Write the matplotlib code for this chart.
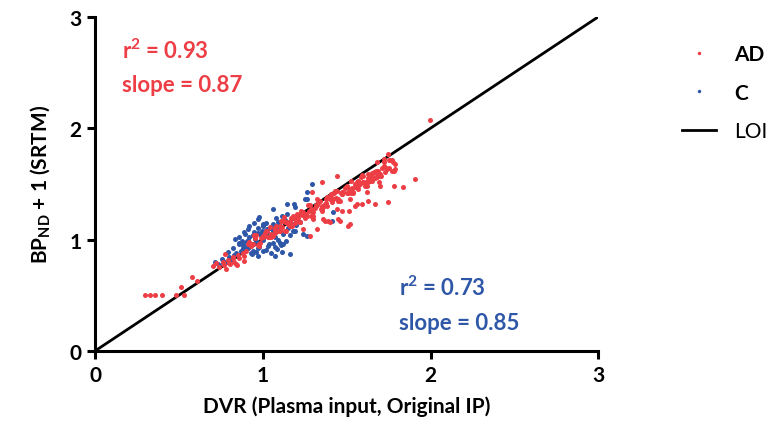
import matplotlib
matplotlib.use("Agg")
import matplotlib.pyplot as plt
from matplotlib.lines import Line2D

plt.rcParams['font.family'] = ['Lato', 'DejaVu Sans']
plt.rcParams['mathtext.fontset'] = 'custom'
plt.rcParams['mathtext.rm'] = 'Lato:bold'
plt.rcParams['mathtext.it'] = 'Lato:bold'
plt.rcParams['mathtext.bf'] = 'Lato:bold'

RED = '#EE3E45'
BLUE = '#2F57A8'

# AD group (red)
red_pts = [
    # low tail
    (0.30, 0.50), (0.33, 0.50), (0.36, 0.50), (0.40, 0.50), (0.48, 0.50), (0.51, 0.57),
    (0.53, 0.50), (0.58, 0.66), (0.61, 0.63),
    # lower-left part of cloud
    (0.70, 0.76), (0.72, 0.79), (0.74, 0.75), (0.76, 0.80), (0.77, 0.77), (0.79, 0.82),
    (0.80, 0.79), (0.82, 0.84), (0.83, 0.80), (0.85, 0.86), (0.86, 0.83), (0.88, 0.88),
    (0.89, 0.85), (0.78, 0.74), (0.84, 0.78), (0.775, 0.87), (0.825, 0.83), (0.885, 0.81),
    (0.845, 0.77), (0.805, 0.78),
    # main band
    (0.90, 0.90), (0.92, 0.98), (0.94, 0.96), (0.96, 1.04), (0.98, 0.94), (1.00, 1.03),
    (1.02, 1.08), (1.04, 1.02), (1.06, 1.03), (1.08, 1.12), (1.10, 1.09), (1.12, 1.17),
    (1.14, 1.08), (1.16, 1.16), (1.18, 1.21), (1.20, 1.16), (1.22, 1.16), (1.24, 1.25),
    (1.26, 1.23), (1.28, 1.31), (1.30, 1.21), (1.32, 1.30), (1.34, 1.35), (1.36, 1.29),
    (1.38, 1.30), (1.40, 1.39), (1.42, 1.36), (1.44, 1.44), (1.46, 1.35), (1.48, 1.43),
    (1.50, 1.48), (1.52, 1.43), (1.54, 1.43), (1.56, 1.52), (1.58, 1.50), (1.60, 1.57),
    (1.62, 1.48), (1.64, 1.57), (1.66, 1.61), (1.68, 1.56), (1.70, 1.57), (1.72, 1.66),
    (1.74, 1.63), (1.76, 1.71), (1.78, 1.62),
    (0.91, 0.96), (0.93, 0.94), (0.95, 1.04), (0.97, 0.95), (0.99, 1.01), (1.01, 1.06),
    (1.03, 1.02), (1.05, 1.05), (1.07, 1.10), (1.09, 1.08), (1.11, 1.17), (1.13, 1.08),
    (1.15, 1.15), (1.17, 1.19), (1.19, 1.15), (1.21, 1.19), (1.23, 1.23), (1.25, 1.21),
    (1.27, 1.31), (1.29, 1.21), (1.31, 1.28), (1.33, 1.33), (1.35, 1.28), (1.37, 1.32),
    (1.39, 1.37), (1.41, 1.34), (1.43, 1.44), (1.45, 1.35), (1.47, 1.41), (1.49, 1.46),
    (1.51, 1.42), (1.53, 1.46), (1.55, 1.50), (1.57, 1.48), (1.59, 1.58), (1.61, 1.48),
    (1.63, 1.55), (1.65, 1.60), (1.67, 1.55), (1.69, 1.59), (1.71, 1.64), (1.73, 1.61),
    (1.75, 1.71), (1.77, 1.62), (1.79, 1.68),
    (1.000, 1.02), (1.025, 1.08), (1.050, 1.02), (1.075, 1.09), (1.100, 1.08), (1.125, 1.20),
    (1.150, 1.14), (1.175, 1.19), (1.200, 1.19), (1.225, 1.25), (1.250, 1.19), (1.275, 1.26),
    (1.300, 1.25), (1.325, 1.36), (1.350, 1.30), (1.375, 1.36), (1.400, 1.36), (1.425, 1.42),
    (1.450, 1.36), (1.475, 1.43), (1.500, 1.42), (1.525, 1.53), (1.550, 1.47), (1.575, 1.52),
    (1.600, 1.52), (1.625, 1.59), (1.650, 1.53), (1.675, 1.60), (1.700, 1.59), (1.725, 1.70),
    (1.750, 1.64),
    (1.115, 1.11), (1.145, 1.16), (1.175, 1.12), (1.205, 1.23), (1.235, 1.22), (1.265, 1.21),
    (1.295, 1.26), (1.325, 1.31), (1.355, 1.27), (1.385, 1.38), (1.415, 1.37), (1.445, 1.36),
    (1.475, 1.41), (1.505, 1.46), (1.535, 1.42), (1.565, 1.53), (1.595, 1.52), (1.625, 1.52),
    (1.655, 1.56), (1.685, 1.62),
    (0.955, 1.01), (0.985, 0.97), (1.015, 1.03), (1.045, 1.11), (1.075, 1.06), (1.105, 1.12),
    (1.135, 1.16), (1.165, 1.12), (1.195, 1.18), (1.225, 1.26), (1.255, 1.21), (1.285, 1.27),
    (1.315, 1.31), (1.345, 1.27), (1.375, 1.33), (1.405, 1.41), (1.435, 1.37), (1.465, 1.42),
    (1.495, 1.47), (1.525, 1.42), (1.555, 1.49), (1.585, 1.56), (1.615, 1.52), (1.645, 1.57),
    (1.675, 1.62), (1.705, 1.57), (1.735, 1.64),
    # scattered outliers
    (1.322, 1.096), (1.391, 1.171), (1.461, 1.171), (1.511, 1.26), (1.55, 1.305), (1.59, 1.32),
    (1.63, 1.35), (1.67, 1.32), (1.749, 1.336), (1.62, 1.426), (1.70, 1.485), (1.78, 1.485),
    (1.838, 1.47), (1.908, 1.545), (1.79, 1.635), (1.779, 1.695), (1.749, 1.77), (1.52, 1.14),
    (1.441, 1.276), (1.352, 1.26), (1.30, 1.186), (1.69, 1.515), (1.64, 1.53), (1.57, 1.455),
    (1.282, 1.036), (1.242, 1.096), (1.361, 1.186), (1.998, 2.07), (1.72, 1.725), (1.68, 1.695),
    (1.769, 1.71), (1.352, 1.515), (1.441, 1.575), (1.292, 1.426), (1.371, 1.171), (1.471, 1.26),
    (1.52, 1.366), (1.56, 1.32), (1.40, 1.156), (1.451, 1.186), (1.51, 1.126),
]

# C group (blue)
blue_pts = [
    (1.063, 1.276), (1.252, 1.366), (0.974, 1.186), (1.004, 1.141), (0.914, 1.096), (0.894, 1.051),
    (0.835, 1.006), (0.855, 0.961), (0.894, 0.931), (0.795, 0.887), (0.755, 0.827), (0.735, 0.782),
    (0.934, 0.871), (0.974, 0.856), (1.073, 0.856), (1.113, 0.887), (1.163, 0.871), (1.083, 0.916),
    (1.034, 0.961), (1.123, 0.961), (0.954, 1.006), (0.984, 1.051), (0.944, 0.961), (0.875, 0.991),
    (1.054, 1.126), (1.093, 1.156), (1.024, 1.096), (0.994, 1.081), (1.044, 1.036), (1.073, 1.021),
    (1.143, 1.231), (1.242, 1.051), (1.262, 1.036), (1.193, 1.081),
    (1.292, 1.50), (1.262, 1.426), (1.262, 1.366), (1.143, 1.32), (1.183, 1.32), (1.193, 1.291),
    (1.421, 1.246), (1.411, 1.171), (1.113, 1.216), (0.716, 0.797), (0.765, 0.811),
    (0.90, 0.98), (0.92, 1.02), (0.95, 1.07), (0.97, 1.10), (1.00, 1.12), (1.02, 1.15),
    (0.93, 0.95), (0.96, 0.99), (0.99, 1.04), (1.01, 1.08), (1.04, 1.10), (1.06, 1.14),
    (0.88, 0.95), (0.91, 0.92), (0.94, 0.90), (0.98, 0.93), (1.03, 0.94), (1.06, 0.97),
    (1.09, 1.00), (1.12, 1.05), (1.15, 1.10), (1.10, 1.12), (1.13, 1.18), (1.08, 1.19),
    (0.87, 0.90), (0.83, 0.86), (0.80, 0.84), (0.78, 0.80), (0.86, 0.97), (1.05, 0.88),
    (1.00, 0.90), (0.96, 0.89), (1.11, 0.95), (1.14, 0.99), (1.16, 1.04), (1.18, 1.08),
    (1.20, 1.13), (1.17, 1.15), (1.22, 1.16),
    (0.86, 1.02), (0.89, 1.07), (0.92, 1.12), (0.95, 1.15), (0.98, 1.20), (0.91, 1.00),
    (0.94, 1.04), (0.97, 1.06), (1.00, 1.00), (1.03, 1.05), (1.06, 1.08), (1.09, 1.10),
    (0.88, 0.92), (0.93, 0.88), (0.97, 0.92), (1.02, 0.91), (1.07, 0.93), (1.10, 0.97),
    (0.82, 0.92), (0.84, 0.88), (0.76, 0.79), (0.81, 0.81),
]

red_x = [p[0] for p in red_pts]
red_y = [p[1] for p in red_pts]
blue_x = [p[0] for p in blue_pts]
blue_y = [p[1] for p in blue_pts]

ticks = [0, 1, 2, 3]

fig = plt.figure(figsize=(7.67, 4.35), dpi=100)
ax = fig.add_axes([0.124, 0.191, 0.656, 0.768])

ax.plot([0, 3], [0, 3], color='black', lw=2, zorder=1)
ax.scatter(blue_x, blue_y, s=13, color=BLUE, linewidths=0, zorder=2)
ax.scatter(red_x, red_y, s=13, color=RED, linewidths=0, zorder=3)

ax.set_xlim(0, 3)
ax.set_ylim(0, 3)
ax.set_xticks(ticks)
ax.set_yticks(ticks)
ax.set_xticklabels([str(t) for t in ticks], fontsize=15, fontweight='bold')
ax.set_yticklabels([str(t) for t in ticks], fontsize=15, fontweight='bold')
for s in ['top', 'right']:
    ax.spines[s].set_visible(False)
for s in ['left', 'bottom']:
    ax.spines[s].set_linewidth(2.2)
ax.tick_params(width=2.2, length=6, pad=4)

ax.set_xlabel('DVR (Plasma input, Original IP)', fontsize=15, fontweight='bold', labelpad=8)
ax.set_ylabel(r'BP$_{\rm ND}$ + 1 (SRTM)', fontsize=15, fontweight='bold', labelpad=12)

ax.text(0.16, 2.63, r'r$^{\rm 2}$ = 0.93', color=RED, fontsize=16, fontweight='bold')
ax.text(0.16, 2.33, 'slope = 0.87', color=RED, fontsize=16, fontweight='bold')
ax.text(1.81, 0.5, r'r$^{\rm 2}$ = 0.73', color=BLUE, fontsize=16, fontweight='bold')
ax.text(1.81, 0.2, 'slope = 0.85', color=BLUE, fontsize=16, fontweight='bold')

handles = [
    Line2D([], [], ls='none', marker='o', ms=2.5, color=RED, mew=0),
    Line2D([], [], ls='none', marker='o', ms=2.5, color=BLUE, mew=0),
    Line2D([], [], color='black', lw=2),
]
leg = fig.legend(handles, ['AD', 'C', 'LOI'], loc='upper left', bbox_to_anchor=(0.865, 0.94),
                 frameon=False, fontsize=15, handlelength=1.6, labelspacing=0.9, handletextpad=0.9)
texts = leg.get_texts()
texts[0].set_fontweight('bold')
texts[1].set_fontweight('bold')

fig.savefig('out.png', dpi=100)
